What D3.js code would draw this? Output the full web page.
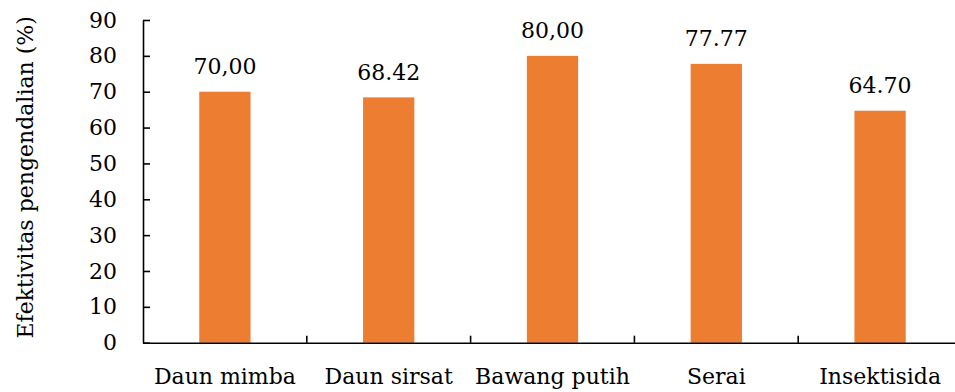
<!DOCTYPE html>
<html>
<head>
<meta charset="utf-8">
<script src="https://cdn.jsdelivr.net/npm/d3@7"></script>
<style>
  html, body { margin: 0; padding: 0; background: #fff; }
  svg { display: block; }
  text { font-family: "DejaVu Serif", "Liberation Serif", serif; fill: #000; }
</style>
</head>
<body>
<svg id="chart" width="955" height="392"></svg>
<script>
const categories = ["Daun mimba", "Daun sirsat", "Bawang putih", "Serai", "Insektisida"];
const values = [70.00, 68.42, 80.00, 77.77, 64.70];
const valueLabels = ["70,00", "68.42", "80,00", "77.77", "64.70"];
const yTicks = [0, 10, 20, 30, 40, 50, 60, 70, 80, 90];
const yTitle = "Efektivitas pengendalian (%)";

const svg = d3.select("#chart");
const mLeft = 143, mRight = 962, mTop = 20, mBottom = 342.7;

const x = d3.scaleBand().domain(categories).range([mLeft, mRight]).paddingInner(0).paddingOuter(0);
const y = d3.scaleLinear().domain([0, 90]).range([mBottom, mTop]);
const barW = x.bandwidth() * 0.313;

// bars
svg.append("g").selectAll("rect").data(values).join("rect")
  .attr("x", (d, i) => x(categories[i]) + x.bandwidth() / 2 - barW / 2)
  .attr("y", d => y(d))
  .attr("width", barW)
  .attr("height", d => y(0) - y(d))
  .attr("fill", "#ED7D31");

// value labels
svg.append("g").selectAll("text").data(values).join("text")
  .attr("x", (d, i) => x(categories[i]) + x.bandwidth() / 2)
  .attr("y", d => y(d) - 17.5)
  .attr("text-anchor", "middle")
  .style("font-size", "22px")
  .text((d, i) => valueLabels[i]);

// y axis
const yAxis = svg.append("g")
  .attr("transform", `translate(${mLeft},0)`)
  .call(d3.axisLeft(y).tickValues(yTicks).tickSizeInner(-7).tickSizeOuter(0).tickPadding(26).tickFormat(d3.format("d")));
yAxis.select(".domain").attr("stroke", "#000").attr("stroke-width", 1.6);
yAxis.selectAll(".tick line").attr("stroke", "#000").attr("stroke-width", 1.6);
yAxis.selectAll(".tick text").style("font-size", "22px").style("font-family", "DejaVu Serif").attr("fill", "#000");

// x axis
const xAxis = svg.append("g")
  .attr("transform", `translate(0,${mBottom})`)
  .call(d3.axisBottom(x).tickSize(0).tickPadding(26));
xAxis.select(".domain").attr("stroke", "#000").attr("stroke-width", 1.6);
xAxis.selectAll(".tick text").style("font-size", "22px").style("font-family", "DejaVu Serif").attr("fill", "#000");

// category boundary ticks
const bounds = categories.map(c => x(c)).concat([x(categories[categories.length - 1]) + x.bandwidth()]);
svg.append("g").selectAll("line").data(bounds.slice(1)).join("line")
  .attr("x1", d => d).attr("x2", d => d)
  .attr("y1", mBottom).attr("y2", mBottom - 7)
  .attr("stroke", "#000").attr("stroke-width", 1.6);

// y title
svg.append("text")
  .attr("transform", `translate(33,${(mTop + mBottom) / 2 - 4}) rotate(-90)`)
  .attr("text-anchor", "middle")
  .style("font-size", "22px")
  .text(yTitle);
</script>
</body>
</html>
